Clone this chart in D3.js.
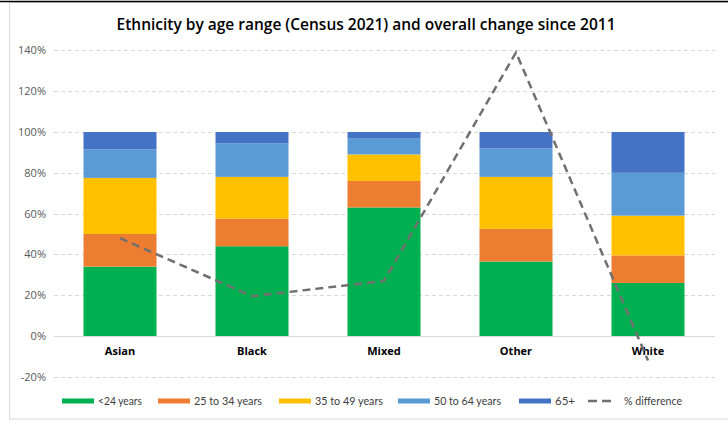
<!DOCTYPE html>
<html>
<head>
<meta charset="utf-8">
<script src="https://cdn.jsdelivr.net/npm/d3@7"></script>
<style>
  body { margin: 0; background: #fff; }
  svg { display: block; font-family: "Open Sans", "Liberation Sans", sans-serif; }
</style>
</head>
<body>
<svg id="chart" width="728" height="428"></svg>
<script>
// categories and series (shares of each ethnic group, %)
const ethnicities = ["Asian", "Black", "Mixed", "Other", "White"];
const ageGroups = ["<24 years", "25 to 34 years", "35 to 49 years", "50 to 64 years", "65+"];
const under24 = [34, 44, 63, 36.5, 26];
const age25to34 = [16, 13.5, 13, 16, 13.5];
const age35to49 = [27.5, 20.5, 13, 25.5, 19.5];
const age50to64 = [14, 16.5, 8, 14, 21];
const age65plus = [8.5, 5.5, 3, 8, 20];
const pctDifference = [48, 19.5, 27, 139, -12];
const yTicks = [-20, 0, 20, 40, 60, 80, 100, 120, 140];

const colors = ["#00b050", "#ed7d31", "#ffc000", "#5b9bd5", "#4472c4"];

const svg = d3.select("#chart");

// frame
svg.append("rect").attr("x", 9.5).attr("y", 2.5).attr("width", 730).attr("height", 416.5)
  .attr("fill", "none").attr("stroke", "#d9d9d9");
svg.append("line").attr("x1", 0).attr("x2", 728).attr("y1", 1.5).attr("y2", 1.5)
  .attr("stroke", "#000").attr("stroke-width", 1.5);

svg.append("text")
  .attr("x", 366).attr("y", 30)
  .attr("text-anchor", "middle")
  .attr("font-size", 15.5).attr("font-weight", 600).attr("fill", "#000")
  .text("Ethnicity by age range (Census 2021) and overall change since 2011");

const x = d3.scaleBand().domain(ethnicities).range([54, 714]).paddingInner(0.447).paddingOuter(0.2235);
const y = d3.scaleLinear().domain([-20, 140]).range([376.8, 50.4]);

// gridlines
svg.append("g").selectAll("line").data(yTicks.filter(d => d !== 0)).join("line")
  .attr("x1", 54).attr("x2", 715)
  .attr("y1", d => Math.round(y(d)) + 0.5).attr("y2", d => Math.round(y(d)) + 0.5)
  .attr("stroke", "#d9d9d9").attr("stroke-dasharray", "4,3");

// y axis labels
const yAxis = svg.append("g").attr("transform", "translate(46,0)")
  .call(d3.axisLeft(y).tickValues(yTicks).tickSize(0).tickFormat(d => d + "%"));
yAxis.select(".domain").remove();
yAxis.selectAll("text").attr("font-size", 11).attr("fill", "#595959")
  .attr("font-family", "'Open Sans', sans-serif").attr("x", 0);

// stacked bars
const rows = ethnicities.map((e, i) => ({
  eth: e,
  a0: under24[i], a1: age25to34[i], a2: age35to49[i], a3: age50to64[i], a4: age65plus[i]
}));
const stack = d3.stack().keys(["a0", "a1", "a2", "a3", "a4"])(rows);

svg.append("g").selectAll("g").data(stack).join("g")
  .attr("fill", (d, i) => colors[i])
  .selectAll("rect").data(d => d).join("rect")
  .attr("x", d => x(d.data.eth))
  .attr("width", x.bandwidth())
  .attr("y", d => y(d[1]))
  .attr("height", d => y(d[0]) - y(d[1]));

// zero line
svg.append("line").attr("x1", 54).attr("x2", 715)
  .attr("y1", Math.round(y(0)) + 0.5).attr("y2", Math.round(y(0)) + 0.5)
  .attr("stroke", "#d9d9d9").attr("stroke-width", 1);

// category labels
svg.append("g").selectAll("text").data(ethnicities).join("text")
  .attr("x", d => x(d) + x.bandwidth() / 2)
  .attr("y", 355)
  .attr("text-anchor", "middle")
  .attr("font-size", 11).attr("font-weight", 700).attr("fill", "#000")
  .text(d => d);

// % difference line
const line = d3.line()
  .x((d, i) => x(ethnicities[i]) + x.bandwidth() / 2)
  .y(d => y(d));
svg.append("path").datum(pctDifference)
  .attr("d", line)
  .attr("fill", "none").attr("stroke", "#707070")
  .attr("stroke-width", 2.5).attr("stroke-dasharray", "8,5");

// legend
const legendItems = [
  { name: ageGroups[0], color: colors[0], x: 62, w: 44 },
  { name: ageGroups[1], color: colors[1], x: 158, w: 68 },
  { name: ageGroups[2], color: colors[2], x: 279, w: 68 },
  { name: ageGroups[3], color: colors[3], x: 398, w: 67 },
  { name: ageGroups[4], color: colors[4], x: 519, w: 20 }
];
const lg = svg.append("g").attr("transform", "translate(0,401)")
  .attr("font-family", "Lato, 'Open Sans', sans-serif");
legendItems.forEach(it => {
  lg.append("rect").attr("x", it.x).attr("y", -2.5).attr("width", 32).attr("height", 5).attr("fill", it.color);
  lg.append("text").attr("x", it.x + 36).attr("y", 4)
    .attr("font-size", 11.5).attr("fill", "#404040")
    .attr("textLength", it.w).attr("lengthAdjust", "spacingAndGlyphs")
    .text(it.name);
});
lg.append("line").attr("x1", 588).attr("x2", 612).attr("y1", 0).attr("y2", 0)
  .attr("stroke", "#707070").attr("stroke-width", 2.5).attr("stroke-dasharray", "9,5");
lg.append("text").attr("x", 624).attr("y", 4)
  .attr("font-size", 11.5).attr("fill", "#404040")
  .attr("textLength", 58).attr("lengthAdjust", "spacingAndGlyphs")
  .text("% difference");
</script>
</body>
</html>
